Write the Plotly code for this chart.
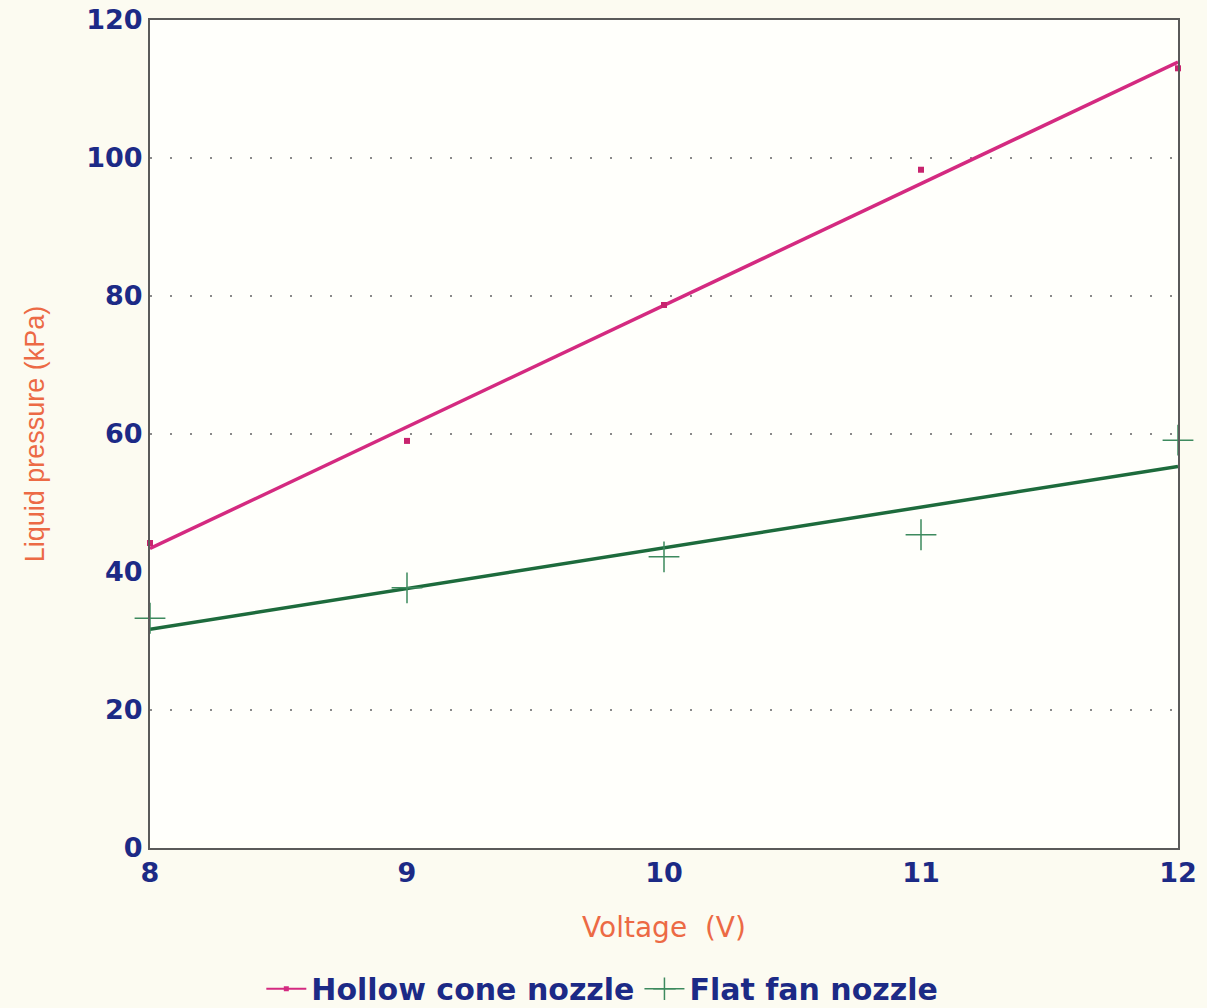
import plotly.graph_objects as go

# Data
voltage = [8, 9, 10, 11, 12]
hollow_cone = [44.2, 59.0, 78.7, 98.3, 113.0]
flat_fan = [33.3, 37.7, 42.2, 45.4, 59.1]

# Fitted (regression) lines as drawn in the reference, read at the ends
fit_x = [8, 12]
hollow_fit = [43.4, 113.9]
flat_fit = [31.7, 55.3]

grid_values = [20, 60, 80, 100]
y_ticks = [0, 20, 40, 60, 80, 100, 120]
x_ticks = [8, 9, 10, 11, 12]

MAGENTA = "#d42a80"
GREEN = "#1d6b3c"
GREEN_MK = "#3d8a5e"
NAVY = "#1c2a86"
ORANGE = "#ec6a45"

fig = go.Figure()

fig.add_trace(go.Scatter(x=fit_x, y=hollow_fit, mode="lines",
                         line=dict(color=MAGENTA, width=3.5), showlegend=False,
                         cliponaxis=False))
fig.add_trace(go.Scatter(x=fit_x, y=flat_fit, mode="lines",
                         line=dict(color=GREEN, width=3.5), showlegend=False,
                         cliponaxis=False))
fig.add_trace(go.Scatter(x=voltage, y=hollow_cone, mode="markers",
                         marker=dict(symbol="square", size=6, color="#c8246e"),
                         showlegend=False, cliponaxis=False))
fig.add_trace(go.Scatter(x=voltage, y=flat_fan, mode="markers",
                         marker=dict(symbol="cross-thin", size=22,
                                     line=dict(color=GREEN_MK, width=1.5)),
                         showlegend=False, cliponaxis=False))

# legend entries
fig.add_trace(go.Scatter(x=[None], y=[None], mode="lines+markers",
                         name="Hollow cone nozzle",
                         line=dict(color=MAGENTA, width=2),
                         marker=dict(symbol="square", size=5, color=MAGENTA)))
fig.add_trace(go.Scatter(x=[None], y=[None], mode="lines+markers",
                         name="Flat fan nozzle",
                         line=dict(color=GREEN_MK, width=1.5),
                         marker=dict(symbol="cross-thin", size=18,
                                     line=dict(color=GREEN_MK, width=1.5))))

for g in grid_values:
    fig.add_shape(type="line", xref="paper", x0=0, x1=1, yref="y", y0=g, y1=g,
                  line=dict(color="#8a8a8a", width=2, dash="2px,18px"),
                  layer="below")

fig.update_layout(
    width=1207, height=1008,
    margin=dict(l=150, r=29, t=20, b=160, autoexpand=False),
    paper_bgcolor="#fcfbf1",
    plot_bgcolor="#fffffb",
    showlegend=True,
    legend=dict(orientation="h", x=0.44, xanchor="center", y=-0.17,
                yanchor="middle", bgcolor="rgba(0,0,0,0)",
                font=dict(family="DejaVu Sans", size=30, color=NAVY, weight="bold"),
                itemwidth=40, tracegroupgap=0),
    xaxis=dict(range=[8, 12], tickvals=x_ticks, ticktext=[str(v) for v in x_ticks],
               showgrid=False, zeroline=False, showline=True, mirror=True,
               linecolor="#5a5a5a", linewidth=2, ticks="", automargin=False,
               tickfont=dict(family="DejaVu Sans", size=27, color=NAVY, weight="bold"),
               title=dict(text="Voltage  (V)", standoff=30,
                          font=dict(family="DejaVu Sans", size=28, color=ORANGE))),
    yaxis=dict(range=[0, 120], tickvals=y_ticks, ticktext=[str(v) for v in y_ticks],
               showgrid=False, zeroline=False, showline=True, mirror=True,
               linecolor="#5a5a5a", linewidth=2, ticks="", automargin=False,
               tickfont=dict(family="DejaVu Sans", size=27, color=NAVY, weight="bold"),
               title=dict(text="Liquid pressure (kPa)", standoff=34,
                          font=dict(family="Liberation Sans", size=27, color=ORANGE))),
)

fig.write_html("out.html")
